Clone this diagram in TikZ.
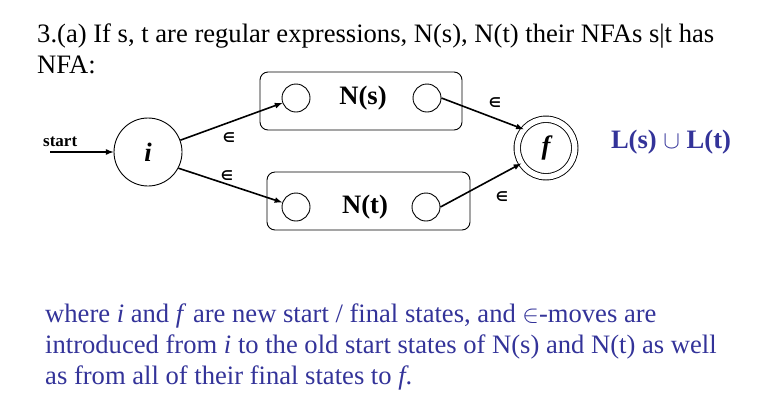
\documentclass[tikz,border=0pt]{standalone}
\usepackage{fontspec}
\setmainfont{Liberation Serif}
\newfontfamily\epsfont{DejaVu Sans}
\usetikzlibrary{arrows}
\definecolor{txtblue}{RGB}{51,51,153}
\newcommand{\bigtxt}{\fontsize{26.6}{31}\selectfont}
\newcommand{\eps}{{\epsfont\bfseries\fontsize{13.5}{13.5}\selectfont ∈}}

\begin{document}
\begin{tikzpicture}[x=1pt,y=-1pt,
  txt/.style={anchor=base west,inner sep=0pt,font=\bigtxt},
  state/.style={circle,draw,line width=0.9pt,inner sep=0pt},
  sub/.style={state,minimum size=28pt},
  move/.style={-latex,line width=1.6pt},
  box/.style={draw,rounded corners=8pt,line width=0.9pt}]
%  \draw[gray] (0,0) rectangle (759,405);
  \path[use as bounding box] (0,0) rectangle (759,405);
  \node[txt] (hd1) at (37,42) {3.(a) If s, t are regular expressions, N(s), N(t) their NFAs s|t has};
  \node[txt] (hd2) at (37,73) {NFA:};
  \draw[box] (260,72) rectangle (462,130);
  \draw[box] (267,172) rectangle (470,230);
  \node[state,minimum size=68pt,font=\bigtxt\bfseries\itshape] (i) at (148,152) {i};
  \node[sub] (s1) at (296, 98) {};
  \node[sub] (s2) at (427, 98) {};
  \node[sub] (t1) at (296,207) {};
  \node[sub] (t2) at (426,207) {};
  \node[font=\bigtxt\bfseries] (ns) at (363, 98) {N(s)};
  \node[font=\bigtxt\bfseries] (nt) at (365,207) {N(t)};
  \node[state,double,double distance=5.5pt,minimum size=57.5pt,font=\bigtxt\bfseries\itshape] (f) at (546,148) {f};
  \coordinate (st) at (50,152);
  \node[anchor=base west,inner sep=0pt,font=\fontsize{17}{17}\selectfont\bfseries] (lbl) at (43,146) {start};
  \draw[move] (st) -- (i);
  \draw[move] (i) -- (s1);
  \draw[move] (i.-28) -- (t1);
  \draw[move] (s2.east) -- (f.140);
  \draw[move] (t2.east) -- (f.212);
  \node (e1) at (229,138) {\eps};
  \node (e2) at (227,176) {\eps};
  \node (e3) at (495,103) {\eps};
  \node (e4) at (502,197) {\eps};
  \node[font=\bigtxt\bfseries,text=txtblue] (lang) at (671,142) {L(s) $\cup$ L(t)};
  \node[txt,text=txtblue] (bt1) at (45,322) {where \textit{i} and \textit{f} are new start / final states, and $\in$-moves are};
  \node[txt,text=txtblue] (bt2) at (45,353) {introduced from \textit{i} to the old start states of N(s) and N(t) as well};
  \node[txt,text=txtblue] (bt3) at (45,384) {as from all of their final states to \textit{f}.};
\end{tikzpicture}
\end{document}
